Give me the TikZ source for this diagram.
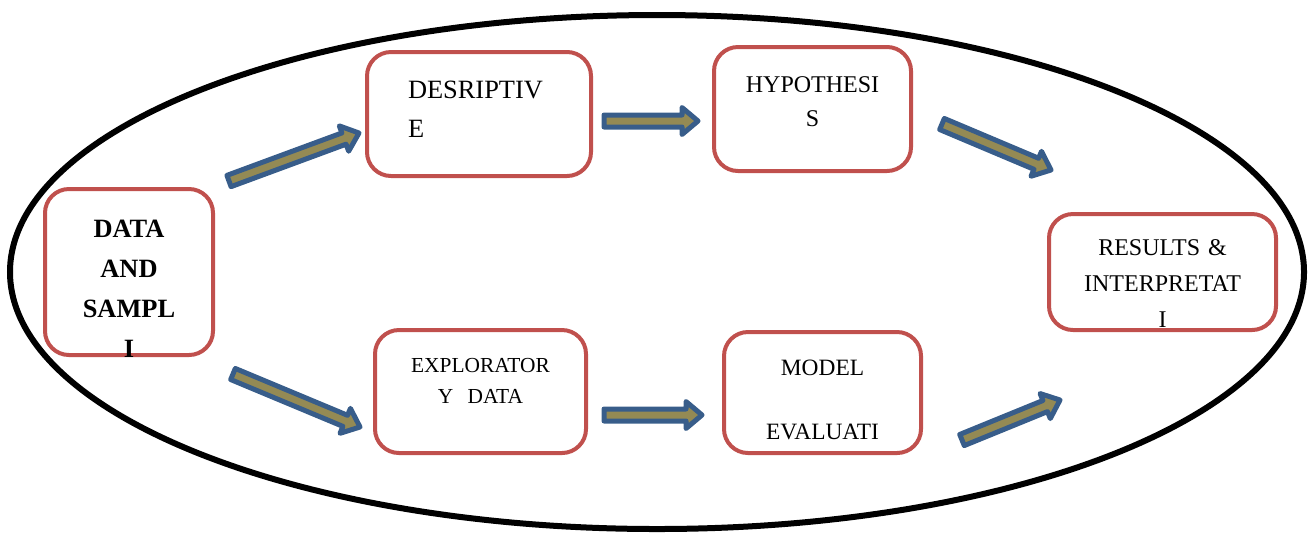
\documentclass[tikz,border=0pt]{standalone}
\usepackage{fontspec}
\setmainfont{Liberation Serif}
\usetikzlibrary{calc}

\definecolor{boxred}{HTML}{C0504D}
\definecolor{flowblue}{HTML}{385D8A}
\definecolor{flowolive}{HTML}{948A54}

\tikzset{
  stage/.style={draw=boxred, line width=2pt, rounded corners=12pt, inner sep=0pt, align=center},
  flow/.style={draw=flowblue, fill=flowolive, line width=2.5pt, line join=round},
}

% block arrow from tail #1 to tip #2
\newcommand{\flowarrow}[2]{%
  \coordinate (#1h) at ($(#2)!8pt!(#1)$);
  \draw [flow] ($(#1)!3pt!90:(#2)$) -- ($(#1h)!3pt!90:(#2)$) -- ($(#1h)!6.75pt!90:(#2)$) -- (#2)
    -- ($(#1h)!6.75pt!-90:(#2)$) -- ($(#1h)!3pt!-90:(#2)$) -- ($(#1)!3pt!-90:(#2)$) -- cycle;
}

\begin{document}
\begin{tikzpicture}[x=0.5pt, y=-0.5pt]
  \useasboundingbox (0,0) rectangle (1309,532);

  \draw [line width=3pt] (657,272) ellipse [x radius=647, y radius=257];

  \node [stage, minimum width=84pt, minimum height=83pt, text width=80pt, font=\bfseries\fontsize{13.2}{20}\selectfont,
         text height=10pt, text depth=45pt] (data) at (129,272) {DATA\\AND\\SAMPL\\I};
  \node [stage, minimum width=112pt, minimum height=62pt, text width=71pt, align=left,
         font=\fontsize{13.2}{19.5}\selectfont, text height=10pt, text depth=26pt] (desc) at (479,114) {DESRIPTIV\\E};
  \node [stage, minimum width=98.5pt, minimum height=62pt, text width=90pt, font=\fontsize{12}{17}\selectfont,
         text height=9pt, text depth=26pt] (hyp) at (812.5,109) {HYPOTHESI\\S};
  \node [stage, minimum width=105.5pt, minimum height=61.5pt, text width=95pt, font=\fontsize{10.7}{15.5}\selectfont,
         text height=8pt, text depth=27.5pt] (eda) at (480.5,391.5) {EXPLORATOR\\Y~~DATA};
  \node [stage, minimum width=98.5pt, minimum height=60.5pt, text width=90pt, font=\fontsize{11.7}{16}\selectfont,
         text height=9pt, text depth=26.5pt] (model) at (822.5,392.5) {MODEL\\[16pt]EVALUATI};
  \node [stage, minimum width=113.5pt, minimum height=58pt, text width=105pt, font=\fontsize{12}{18}\selectfont,
         text height=9pt, text depth=26pt] (res) at (1162.5,272) {RESULTS \&\\INTERPRETAT\\I};

  % arrow ends
  \coordinate (s1) at (229,181);  \coordinate (e1) at (359,133);
  \coordinate (s2) at (604,121);  \coordinate (e2) at (698,121);
  \coordinate (s3) at (942,124);  \coordinate (e3) at (1051,170);
  \coordinate (s4) at (233,374);  \coordinate (e4) at (360,427);
  \coordinate (s5) at (604,415);  \coordinate (e5) at (702,415);
  \coordinate (s6) at (962,440);  \coordinate (e6) at (1060,400);

  \flowarrow{s1}{e1}
  \flowarrow{s2}{e2}
  \flowarrow{s3}{e3}
  \flowarrow{s4}{e4}
  \flowarrow{s5}{e5}
  \flowarrow{s6}{e6}
\end{tikzpicture}
\end{document}
